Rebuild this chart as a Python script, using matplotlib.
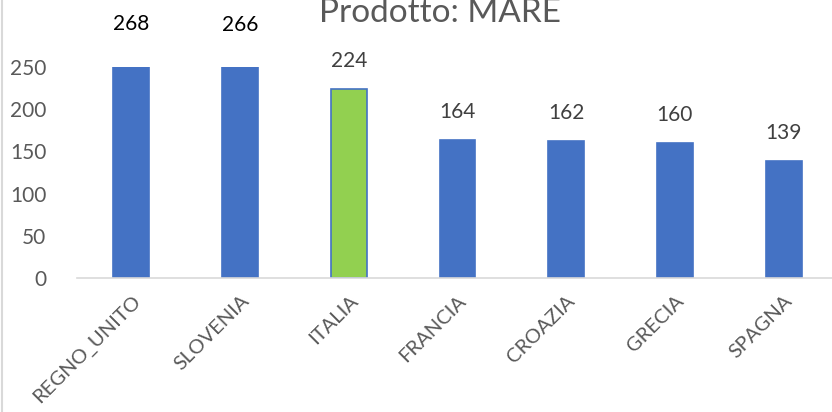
import matplotlib
matplotlib.use("Agg")
import matplotlib.pyplot as plt
from matplotlib.lines import Line2D

categories = ["REGNO_UNITO", "SLOVENIA", "ITALIA", "FRANCIA", "CROAZIA", "GRECIA", "SPAGNA"]
values = [268, 266, 224, 164, 162, 160, 139]
highlight = "ITALIA"
yticks = [0, 50, 100, 150, 200, 250]

plt.rcParams['font.family'] = ['Lato', 'DejaVu Sans']

fig = plt.figure(figsize=(8.32, 4.12), dpi=100)
ax = fig.add_axes([77/832, 1-278/412, 761/832, 211/412])

x = list(range(len(categories)))
colors = ["#92D050" if c == highlight else "#4472C4" for c in categories]
ax.bar(x, values, width=0.33, color=colors, edgecolor="#4472C4", linewidth=1.2, zorder=2)

for xi, v in zip(x, values):
    ax.annotate(str(v), (xi, v), xytext=(0, 13), textcoords="offset points",
                ha="center", va="bottom", fontsize=15,
                color="#000000" if v > 250 else "#404040", annotation_clip=False)

ax.set_xlim(-0.5, 6.5)
ax.set_ylim(0, 250)
ax.set_yticks(yticks)
ax.set_yticklabels([str(t) for t in yticks], fontsize=15, color="#595959")
ax.set_xticks(x)
ax.set_xticklabels(categories, rotation=45, ha="right", rotation_mode="anchor",
                   fontsize=14.5, color="#595959")
ax.tick_params(axis="both", length=0)
ax.tick_params(axis="y", pad=22)
ax.tick_params(axis="x", pad=10)
for s in ["top", "right", "left"]:
    ax.spines[s].set_visible(False)
ax.spines["bottom"].set_color("#D9D9D9")
ax.spines["bottom"].set_linewidth(1.2)

fig.text(440/832, 1-22/412, "Prodotto: MARE", ha="center", va="baseline",
         fontsize=24, color="#595959")

fig.add_artist(Line2D([2/832, 2/832], [0, 1], transform=fig.transFigure,
                      color="#D9D9D9", linewidth=1.5))

fig.savefig("out.png", dpi=100)
